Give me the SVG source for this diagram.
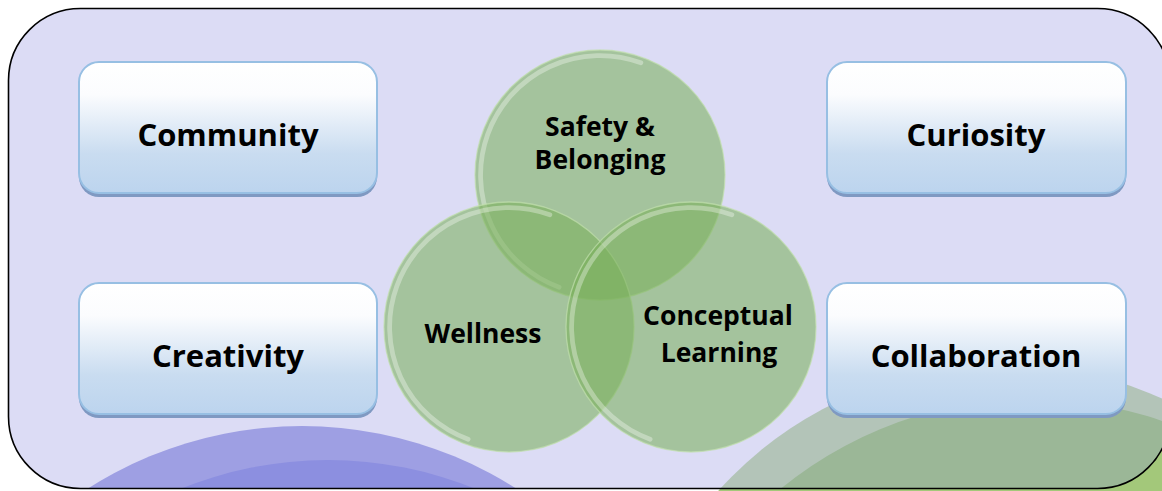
<svg xmlns="http://www.w3.org/2000/svg" width="1162" height="491" viewBox="0 0 1162 491">
  <defs>
    <linearGradient id="boxGrad" x1="0" y1="0" x2="0" y2="1">
      <stop offset="0" stop-color="#ffffff"/>
      <stop offset="0.25" stop-color="#fbfcfe"/>
      <stop offset="0.7" stop-color="#c9dcf0"/>
      <stop offset="1" stop-color="#bcd4ee"/>
    </linearGradient>
    <clipPath id="frameClip">
      <rect x="8.5" y="8.5" width="1161" height="480" rx="72" ry="72"/>
    </clipPath>
    <style>
      .box { fill: url(#boxGrad); stroke: #97bfe3; stroke-width: 2; }
      .shadow { fill: #7f99c2; }
      .boxText { font-family: "Open Sans", "Liberation Sans", sans-serif; font-weight: 700; font-size: 31px; fill: #000; text-anchor: middle; }
      .venn { fill: #7ab059; fill-opacity: 0.57; stroke: #c2e0ae; stroke-opacity: 0.7; stroke-width: 1.3; }
      .rim { fill: none; stroke: #ffffff; stroke-opacity: 0.33; stroke-width: 5; stroke-linecap: round; }
      .vennText { font-family: "Open Sans", "Liberation Sans", sans-serif; font-weight: 700; font-size: 26.5px; fill: #000; text-anchor: middle; }
    </style>
  </defs>

  <!-- background -->
  <rect x="0" y="0" width="1162" height="491" fill="#ffffff"/>
  <!-- green big circle visible outside frame corner -->
  <circle cx="1003" cy="747" r="383" fill="#a3c87a"/>
  <!-- frame fill -->
  <rect x="8.5" y="8.5" width="1161" height="480" rx="72" ry="72" fill="#dcdcf5"/>

  <!-- decorative circles inside frame -->
  <g clip-path="url(#frameClip)">
    <circle cx="302" cy="824" r="398" fill="#9e9fe3"/>
    <circle cx="328" cy="852" r="392" fill="#8c8fe0"/>
    <circle cx="1003" cy="747" r="383" fill="#b3c4b8"/>
    <circle cx="1032" cy="796" r="397" fill="#9bb797"/>
  </g>
  <!-- frame outline -->
  <rect x="8.5" y="8.5" width="1161" height="480" rx="72" ry="72" fill="none" stroke="#000000" stroke-width="1.6"/>

  <!-- Venn circles -->
  <g id="venn-safety">
    <circle class="venn" cx="600" cy="175" r="125"/>
    <path class="rim" d="M 557.2 292.5 A 125 125 0 0 1 642.8 57.5" transform="translate(600 175) scale(0.955) translate(-600 -175)"/>
  </g>
  <g id="venn-wellness">
    <circle class="venn" cx="509" cy="327" r="125"/>
    <path class="rim" d="M 466.2 444.5 A 125 125 0 0 1 551.8 209.5" transform="translate(509 327) scale(0.955) translate(-509 -327)"/>
  </g>
  <g id="venn-conceptual">
    <circle class="venn" cx="691" cy="327" r="125"/>
    <path class="rim" d="M 648.2 444.5 A 125 125 0 0 1 733.8 209.5" transform="translate(691 327) scale(0.955) translate(-691 -327)"/>
  </g>
  <g id="venn-labels">
    <text class="vennText" x="600" y="136">Safety &amp;</text>
    <text class="vennText" x="600" y="169">Belonging</text>
    <text class="vennText" x="483" y="343">Wellness</text>
    <text class="vennText" x="718" y="325">Conceptual</text>
    <text class="vennText" x="719" y="362">Learning</text>
  </g>

  <!-- boxes -->
  <g id="community">
    <rect class="shadow" x="79" y="66" width="298" height="131" rx="20"/>
    <rect class="box" x="79" y="62" width="298" height="131" rx="20"/>
    <text class="boxText" x="228" y="146">Community</text>
  </g>
  <g id="curiosity">
    <rect class="shadow" x="827" y="66" width="299" height="131" rx="20"/>
    <rect class="box" x="827" y="62" width="299" height="131" rx="20"/>
    <text class="boxText" x="976" y="146">Curiosity</text>
  </g>
  <g id="creativity">
    <rect class="shadow" x="79" y="287" width="298" height="131" rx="20"/>
    <rect class="box" x="79" y="283" width="298" height="131" rx="20"/>
    <text class="boxText" x="228" y="367">Creativity</text>
  </g>
  <g id="collaboration">
    <rect class="shadow" x="827" y="287" width="299" height="131" rx="20"/>
    <rect class="box" x="827" y="283" width="299" height="131" rx="20"/>
    <text class="boxText" x="976" y="367">Collaboration</text>
  </g>

  <g id="connectors"></g>
</svg>
